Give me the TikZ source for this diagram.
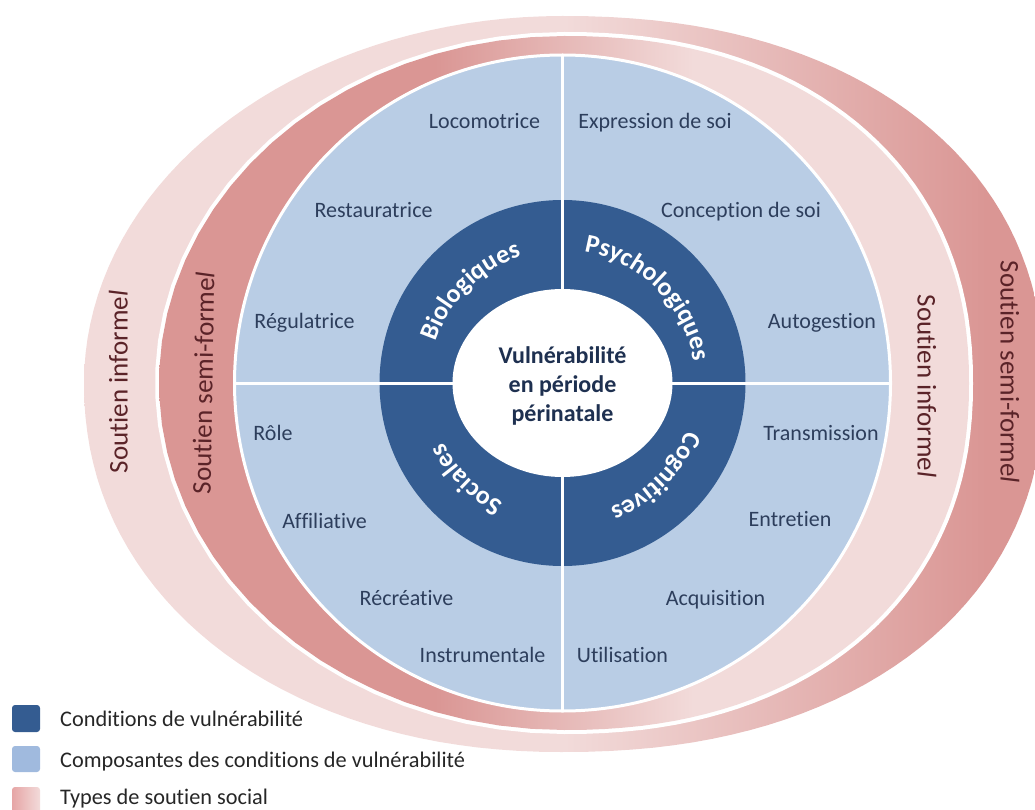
\documentclass[tikz,border=0pt]{standalone}
\usepackage{fontspec}
\setmainfont{Carlito}[Ligatures={NoCommon}]
\usetikzlibrary{decorations.text}
\definecolor{pinkL}{RGB}{242,219,218}
\definecolor{pinkD}{RGB}{218,150,148}
\definecolor{legpinkD}{RGB}{230,165,165}
\definecolor{ringblue}{RGB}{52,92,145}
\definecolor{compblue}{RGB}{185,205,229}
\definecolor{legblue}{RGB}{160,186,222}
\definecolor{labtext}{RGB}{45,62,92}
\definecolor{centtext}{RGB}{30,48,80}
\definecolor{soutext}{RGB}{90,35,40}
\pgfdeclarehorizontalshading{outerband}{100bp}{color(0bp)=(pinkL); color(50bp)=(pinkL); color(72bp)=(pinkD); color(100bp)=(pinkD)}
\pgfdeclarehorizontalshading{innerband}{100bp}{color(0bp)=(pinkD); color(42bp)=(pinkD); color(58bp)=(pinkL); color(100bp)=(pinkL)}
\pgfdeclarehorizontalshading{legpink}{100bp}{color(0bp)=(legpinkD); color(25bp)=(legpinkD); color(75bp)=(pinkL); color(100bp)=(pinkL)}
\begin{document}
\begin{tikzpicture}[x=1pt,y=1pt,
  comp/.style={font=\fontsize{22}{26}\selectfont, text=labtext, inner sep=0pt, anchor=center, text height=0.7em, text depth=0.2em, yshift=-5},
  sout/.style={font=\fontsize{27}{32}\selectfont, text=soutext, inner sep=0pt, text height=0.7em, text depth=0.2em},
  leg/.style={font=\fontsize{22.3}{27}\selectfont, text=black!85, anchor=west, inner sep=0pt, text height=0.7em, text depth=0.2em, yshift=-5},
  legbox/.style={rounded corners=3pt},
  ringlab/.style={decorate, decoration={text along path, text align=center, text color=white}},
  qp/.style={domain=#1, samples=40, variable=\t}
]
\useasboundingbox (0,0) rectangle (1035,-810);
\clip (0,0) rectangle (1035,-810);

% support bands (left halves elliptic, right halves slightly squarer)
\shade[shading=outerband]
  plot[qp=0:90] ({562+482*max(cos(\t),0.0001)^0.909}, {-383+367*max(sin(\t),0.0001)^0.909})
  -- plot[qp=90:180] ({562+478*cos(\t)}, {-383+367*sin(\t)})
  -- plot[qp=180:270] ({562-478*max(-cos(\t),0.0001)^0.95}, {-383-369*max(-sin(\t),0.0001)^0.95})
  -- plot[qp=270:360] ({562+482*max(cos(\t),0.0001)^0.909}, {-383-369*max(-sin(\t),0.0001)^0.909})
  -- cycle;
\fill[white]
  plot[qp=0:90] ({564+409*max(cos(\t),0.0001)^0.909}, {-383+351*max(sin(\t),0.0001)^0.909})
  -- plot[qp=90:270] ({564+409*cos(\t)}, {-383+351*sin(\t)})
  -- plot[qp=270:360] ({564+409*max(cos(\t),0.0001)^0.909}, {-383-351*max(-sin(\t),0.0001)^0.909})
  -- cycle;
\shade[shading=innerband]
  plot[qp=0:90] ({564+405*max(cos(\t),0.0001)^0.909}, {-383+347*max(sin(\t),0.0001)^0.909})
  -- plot[qp=90:270] ({564+405*cos(\t)}, {-383+347*sin(\t)})
  -- plot[qp=270:360] ({564+405*max(cos(\t),0.0001)^0.909}, {-383-347*max(-sin(\t),0.0001)^0.909})
  -- cycle;

% components disc
\path[fill=compblue, draw=white, line width=3] (562.5,-383) circle [radius=328];
% conditions ring
\fill[ringblue] (562.5,-383) circle [radius=183];
\fill[white] (562.5,-383) ellipse [x radius=110, y radius=94];
% dividing cross
\draw[white, line width=3] (562.5,-55) -- (562.5,-711);
\draw[white, line width=3] (234.5,-383) -- (890.5,-383);

% ring labels
\path[ringlab, decoration={text={|\fontsize{26}{30}\selectfont\bfseries|Biologiques}}]
  (562.5,-383) ++(180:133) arc [start angle=180, end angle=90, radius=133];
\path[ringlab, decoration={text={|\fontsize{26}{30}\selectfont\bfseries|Psychologiques}}]
  (562.5,-383) ++(90:133) arc [start angle=90, end angle=0, radius=133];
\path[ringlab, decoration={text={|\fontsize{26}{30}\selectfont\bfseries|Cognitives}}]
  (562.5,-383) ++(0:133) arc [start angle=0, end angle=-90, radius=133];
\path[ringlab, decoration={text={|\fontsize{26}{30}\selectfont\bfseries|Sociales}}]
  (562.5,-383) ++(-90:133) arc [start angle=-90, end angle=-180, radius=133];

% centre
\node[align=center, font=\fontsize{24}{29}\selectfont\bfseries, text=centtext] (centre) at (562.5,-386) {Vulnérabilité\\en période\\périnatale};

% components
\node[comp] (loco) at (484.5,-121) {Locomotrice};
\node[comp] (expr) at (655,-121) {Expression de soi};
\node[comp] (rest) at (373.5,-210) {Restauratrice};
\node[comp] (conc) at (741,-210) {Conception de soi};
\node[comp] (regu) at (304.5,-321) {Régulatrice};
\node[comp] (auto) at (822,-321) {Autogestion};
\node[comp] (role) at (273,-433) {Rôle};
\node[comp] (tran) at (821,-433) {Transmission};
\node[comp] (affi) at (324.5,-521) {Affiliative};
\node[comp] (entr) at (790,-519) {Entretien};
\node[comp] (recr) at (406.5,-598) {Récréative};
\node[comp] (acqu) at (715.5,-598) {Acquisition};
\node[comp] (inst) at (482.5,-655) {Instrumentale};
\node[comp] (util) at (622.5,-655) {Utilisation};

% support labels
\node[sout, rotate=90] (infL) at (125,-382) {Soutien informe\textit{l}};
\node[sout, rotate=89] (semL) at (210,-383) {Soutien semi-forme\textit{l}};
\node[sout, rotate=-90] (infR) at (920,-386) {Soutien informe\textit{l}};
\node[sout, rotate=-90] (semR) at (1003,-372) {Soutien semi-forme\textit{l}};

% legend
\path[legbox, fill=ringblue] (12,-705) rectangle (40,-732);
\path[legbox, fill=legblue] (12,-746) rectangle (40,-772);
\path[legbox, shading=legpink] (12,-787) rectangle (40,-814);
\node[leg] (leg1) at (60,-719) {Conditions de vulnérabilité};
\node[leg] (leg2) at (60,-760) {Composantes des conditions de vulnérabilité};
\node[leg] (leg3) at (60,-797) {Types de soutien social};
\end{tikzpicture}
\end{document}
